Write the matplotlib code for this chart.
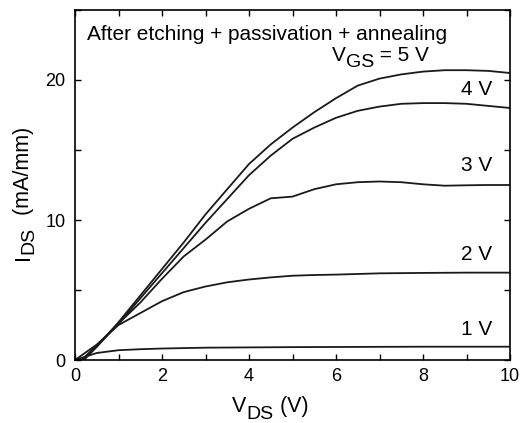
import matplotlib
matplotlib.use("Agg")
import matplotlib.pyplot as plt
from matplotlib.ticker import MultipleLocator
from matplotlib.transforms import IdentityTransform

plt.rcParams['font.family'] = ['Liberation Sans', 'DejaVu Sans']

# Data (VDS in V, IDS in mA/mm)
vds_5 = [0, 0.2, 0.5, 1, 1.5, 2, 2.5, 3, 3.5, 4, 4.5, 5, 5.5, 6, 6.5, 7, 7.5, 8, 8.5, 9, 9.5, 10]
ids_5 = [0, 0, 0.95, 2.7, 4.6, 6.5, 8.4, 10.4, 12.2, 14.0, 15.4, 16.6, 17.7, 18.7, 19.6, 20.1, 20.4, 20.6, 20.7, 20.7, 20.65, 20.5]

vds_4 = [0, 0.2, 0.5, 1, 1.5, 2, 2.5, 3, 3.5, 4, 4.5, 5, 5.5, 6, 6.5, 7, 7.5, 8, 8.5, 9, 9.5, 10]
ids_4 = [0, 0, 0.95, 2.6, 4.4, 6.2, 8.0, 9.8, 11.5, 13.2, 14.6, 15.8, 16.6, 17.3, 17.8, 18.1, 18.3, 18.35, 18.35, 18.3, 18.15, 18.0]

vds_3 = [0, 0.15, 0.5, 1, 1.5, 2, 2.5, 3, 3.5, 4, 4.5, 5, 5.5, 6, 6.5, 7, 7.5, 8, 8.5, 9, 9.5, 10]
ids_3 = [0, 0, 1.05, 2.6, 4.1, 5.8, 7.4, 8.6, 9.9, 10.8, 11.55, 11.67, 12.2, 12.55, 12.7, 12.75, 12.7, 12.55, 12.45, 12.48, 12.5, 12.5]

vds_2 = [0, 0.5, 1, 1.5, 2, 2.5, 3, 3.5, 4, 4.5, 5, 5.5, 6, 7, 8, 9, 10]
ids_2 = [0, 1.1, 2.5, 3.35, 4.2, 4.85, 5.25, 5.55, 5.75, 5.9, 6.02, 6.07, 6.1, 6.19, 6.22, 6.24, 6.24]

vds_1 = [0, 0.25, 0.5, 1, 1.5, 2, 3, 4, 5, 6, 7, 8, 9, 10]
ids_1 = [0, 0.25, 0.5, 0.7, 0.77, 0.82, 0.88, 0.9, 0.92, 0.93, 0.94, 0.95, 0.95, 0.95]

curve_labels = ['4 V', '3 V', '2 V', '1 V']
curve_label_y = [19.3, 13.9, 7.5, 2.15]

W, H = 520, 423
fig = plt.figure(figsize=(W / 100, H / 100), dpi=100)
ax = fig.add_axes([75 / W, 63 / H, 435 / W, 350 / H])

for x, y in [(vds_5, ids_5), (vds_4, ids_4), (vds_3, ids_3), (vds_2, ids_2), (vds_1, ids_1)]:
    ax.plot(x, y, color='#1a1a1a', lw=1.3)

ax.set_xlim(0, 10)
ax.set_ylim(0, 25)
ax.xaxis.set_major_locator(MultipleLocator(2))
ax.xaxis.set_minor_locator(MultipleLocator(1))
ax.yaxis.set_major_locator(MultipleLocator(10))
ax.yaxis.set_minor_locator(MultipleLocator(5))
ax.tick_params(which='both', direction='in', top=True, right=True, labelsize=13,
               width=1.0, length=4)
ax.tick_params(axis='x', pad=6)
ax.tick_params(axis='y', pad=7)
for s in ax.spines.values():
    s.set_linewidth(1.2)

renderer = fig.canvas.get_renderer()


def chain(x0, y0, parts, rotated=False):
    """Draw text parts one after another; parts = (text, size, drop_px)."""
    pos = x0 if not rotated else y0
    for txt, size, drop in parts:
        if rotated:
            t = fig.text(x0 + drop, pos, txt, fontsize=size, rotation=90,
                         rotation_mode='anchor', ha='left', va='baseline',
                         transform=IdentityTransform())
            pos = t.get_window_extent(renderer).y1
        else:
            t = fig.text(pos, y0 - drop, txt, fontsize=size, ha='left', va='baseline',
                         transform=IdentityTransform())
            pos = t.get_window_extent(renderer).x1


# x label: V_DS (V)
chain(232, H - 412, [('V', 15.5, 0), ('DS', 14, 7), (' (V)', 15.5, 0)])
# y label: I_DS (mA/mm)
chain(29, H - 260, [('I', 15.5, 0), ('DS', 14, 4), ('  (mA/mm)', 15.5, 0)], rotated=True)

# annotations
fig.text(87, H - 40, 'After etching + passivation + annealing', fontsize=15,
         ha='left', va='baseline', transform=IdentityTransform())
chain(332, H - 61, [('V', 15, 0), ('GS', 14, 6), (' = 5 V', 15, 0)])

for lab, yv in zip(curve_labels, curve_label_y):
    ax.text(9.59, yv, lab, fontsize=15, ha='right', va='center')

fig.savefig('out.png', dpi=100)
